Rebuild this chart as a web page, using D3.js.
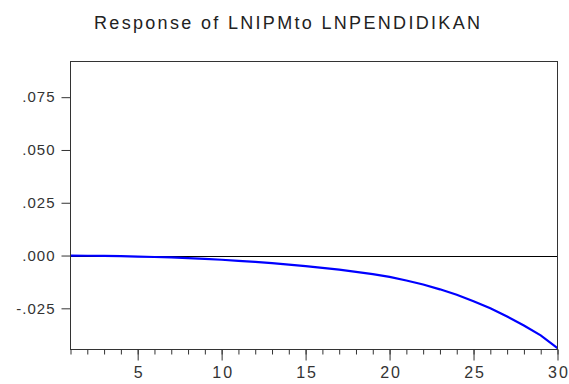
<html>
<head>
  <meta charset="utf-8">
  <script src="https://d3js.org/d3.v7.min.js"></script>
  <style>
    body { margin: 0; background: #fff; }
    text { font-family: "Liberation Sans", Arial, sans-serif; }
  </style>
</head>
<body>
  <div id="chart"></div>
  <script>
    // impulse response values
    var periods = d3.range(1, 31);
    var response = [0, -0.0001, -0.0002, -0.0003, -0.0005, -0.0007, -0.0009, -0.0012, -0.0016, -0.0020,
                    -0.0025, -0.0030, -0.0036, -0.0043, -0.0050, -0.0058, -0.0067, -0.0077, -0.0088, -0.0101,
                    -0.0118, -0.0137, -0.0160, -0.0186, -0.0216, -0.0250, -0.0289, -0.0331, -0.0378, -0.0438];
    var yTicks = [-0.025, 0, 0.025, 0.05, 0.075];
    var xTicks = [5, 10, 15, 20, 25, 30];
    var title = 'Response of LNIPMto LNPENDIDIKAN';

    var W = 569, H = 384;
    var plot = {left: 70.5, right: 557.5, top: 61.5, bottom: 349.5};

    var x = d3.scaleLinear().domain([1, 30]).range([plot.left, plot.right]);
    var y = d3.scaleLinear().domain([-0.0445, 0.0919]).range([plot.bottom, plot.top]);

    var svg = d3.select('#chart').append('svg')
                .attr('width', W)
                .attr('height', H);

    svg.append('text')
         .attr('x', 287)
         .attr('y', 29)
         .attr('text-anchor', 'middle')
         .attr('textLength', 386)
         .style('font-size', '18px')
         .style('fill', '#222')
         .text(title);

    // zero line
    svg.append('line')
         .attr('x1', plot.left).attr('x2', plot.right)
         .attr('y1', Math.round(y(0)) + 0.5).attr('y2', Math.round(y(0)) + 0.5)
         .style('stroke', '#000')
         .style('stroke-width', 1);

    // response line
    var line = d3.line()
                 .x(function(d, i) { return x(periods[i]); })
                 .y(function(d) { return y(d); });

    svg.append('path')
         .attr('d', line(response))
         .style('fill', 'none')
         .style('stroke', '#0000ff')
         .style('stroke-width', 2.2);

    // frame
    svg.append('rect')
         .attr('x', plot.left).attr('y', plot.top)
         .attr('width', plot.right - plot.left).attr('height', plot.bottom - plot.top)
         .style('fill', 'none')
         .style('stroke', '#333')
         .style('stroke-width', 1);

    // y axis
    var yAxis = d3.axisLeft(y)
                  .tickValues(yTicks)
                  .tickSize(9)
                  .tickPadding(7)
                  .tickFormat(function(d) { return d3.format('.3f')(d).replace('0.', '.').replace('\u2212', '-'); });
    var gy = svg.append('g')
                .attr('transform', 'translate(' + plot.left + ',0)')
                .call(yAxis);
    gy.select('.domain').remove();
    gy.selectAll('line').style('stroke', '#333');
    gy.selectAll('text')
      .attr('dx', 1)
      .style('font-size', '15px').style('fill', '#333')
      .style('letter-spacing', '1px')
      .style('font-family', '"Liberation Sans", Arial, sans-serif');

    // x axis: minor ticks every period, labels every 5
    var xMinor = d3.axisBottom(x).tickValues(periods).tickSize(5).tickFormat('');
    var gxm = svg.append('g')
                 .attr('transform', 'translate(0,' + plot.bottom + ')')
                 .call(xMinor);
    gxm.select('.domain').remove();
    gxm.selectAll('line').style('stroke', '#333');

    var xAxis = d3.axisBottom(x).tickValues(xTicks).tickSize(11).tickPadding(6);
    var gx = svg.append('g')
                .attr('transform', 'translate(0,' + plot.bottom + ')')
                .call(xAxis);
    gx.select('.domain').remove();
    gx.selectAll('line').style('stroke', '#333');
    gx.selectAll('text')
      .attr('dx', 1)
      .style('font-size', '16px').style('fill', '#333')
      .style('letter-spacing', '2px')
      .style('font-family', '"Liberation Sans", Arial, sans-serif');
  </script>
</body>
</html>
